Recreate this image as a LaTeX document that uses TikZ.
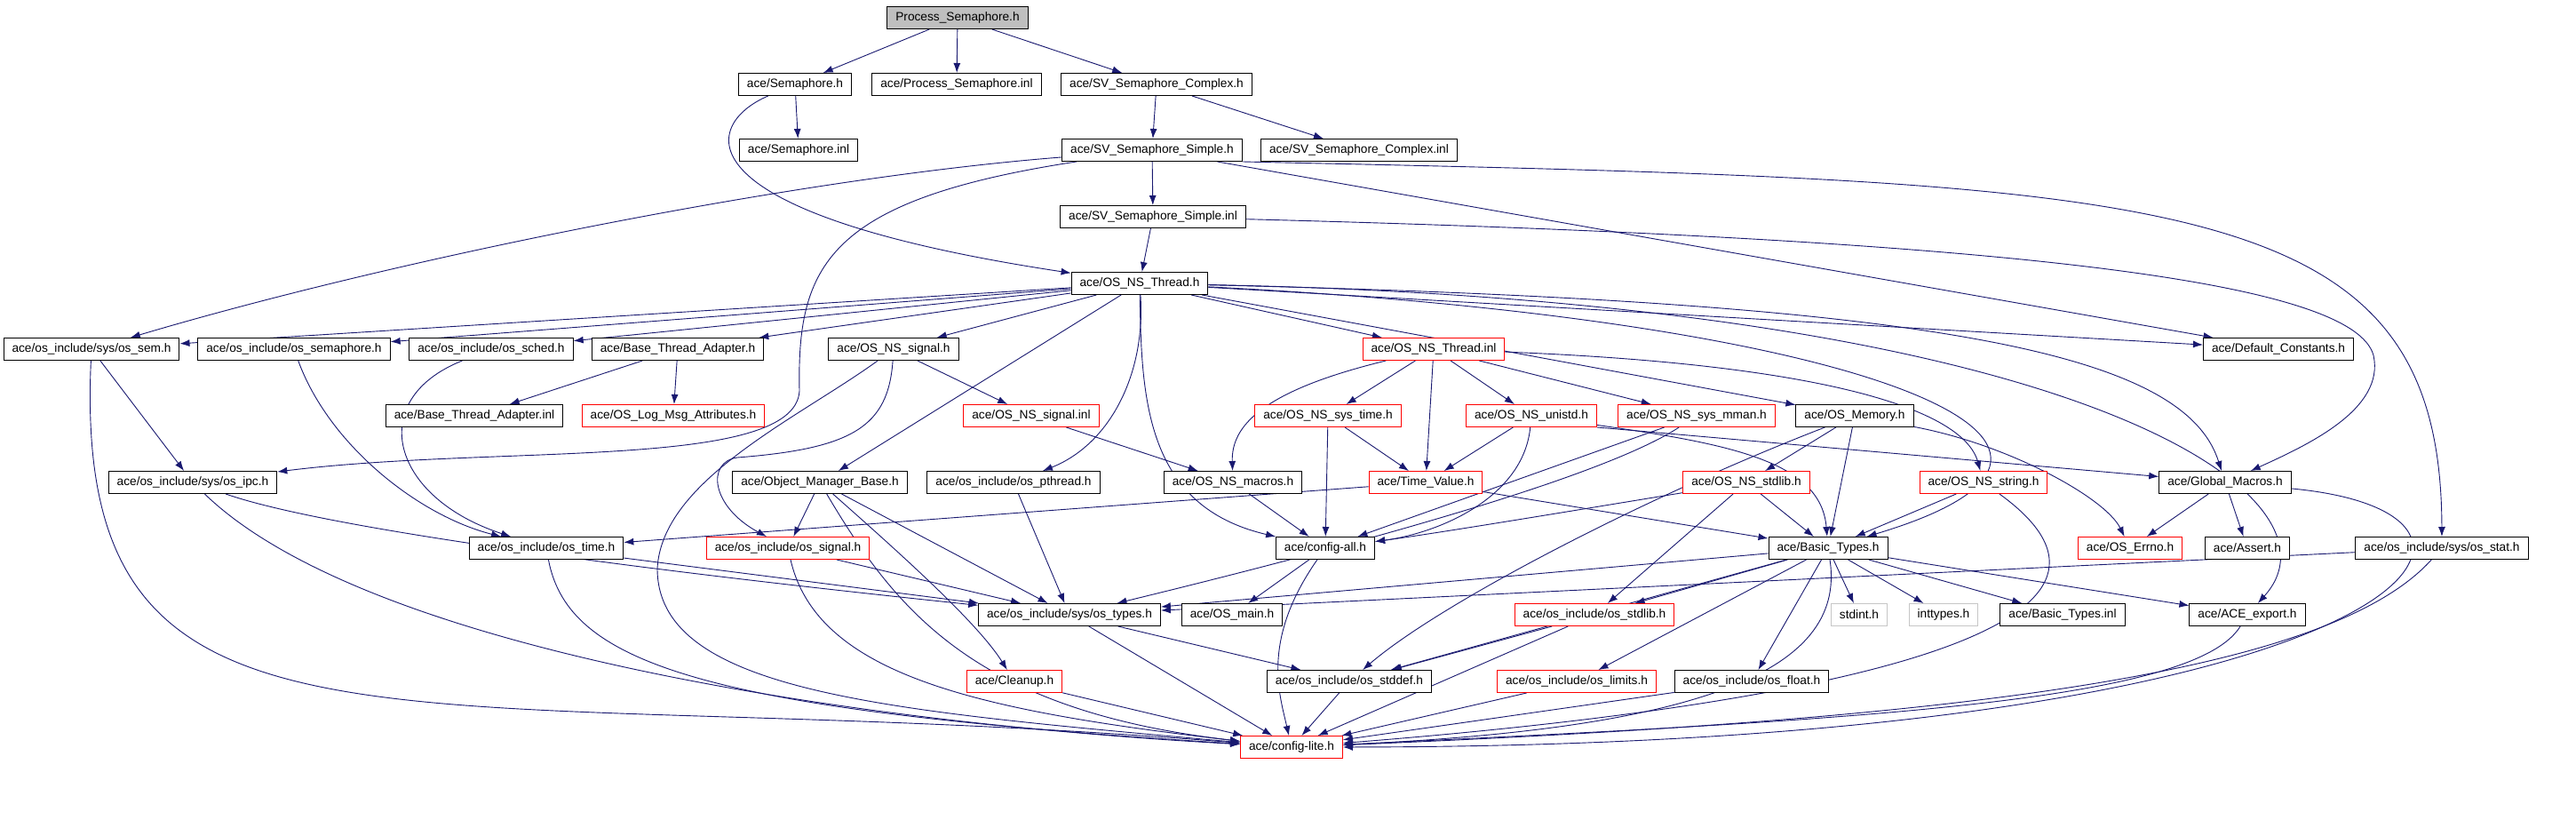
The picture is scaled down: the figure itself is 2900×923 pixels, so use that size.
\documentclass[tikz,border=0pt]{standalone}
\usepackage{fontspec}
\setmainfont{Liberation Sans}
\usetikzlibrary{arrows.meta}
\definecolor{edgeblue}{HTML}{191970}
\pgfdeclarelayer{background}
\pgfsetlayers{background,main}

\begin{document}
\begin{tikzpicture}[
  x=1pt, y=-1pt,
  hdr/.style={draw=black, fill=white, line width=1pt, minimum height=25pt,
    inner xsep=9.5pt, inner ysep=0pt, font=\fontsize{13.7}{16}\selectfont},
  hdrmissing/.style={hdr, draw=red},
  hdrsys/.style={hdr, draw=gray!45},
  hdrmain/.style={hdr, fill=gray!50},
  incl/.style={draw=edgeblue, line width=0.9pt, -{Latex[length=11pt,width=8pt]}}
]
  \useasboundingbox (0, 0) rectangle (2900, 923);

  \node[hdrmain] (ps) at (1078, 20) {Process\_Semaphore.h};

  \node[hdr] (sem) at (895, 95) {ace/Semaphore.h};
  \node[hdr] (psinl) at (1077, 95) {ace/Process\_Semaphore.inl};
  \node[hdr] (svc) at (1302, 95) {ace/SV\_Semaphore\_Complex.h};

  \node[hdr] (seminl) at (899, 169) {ace/Semaphore.inl};
  \node[hdr] (svs) at (1297, 169) {ace/SV\_Semaphore\_Simple.h};
  \node[hdr] (svcinl) at (1530, 169) {ace/SV\_Semaphore\_Complex.inl};

  \node[hdr] (svsinl) at (1298, 244) {ace/SV\_Semaphore\_Simple.inl};

  \node[hdr] (thr) at (1283, 319) {ace/OS\_NS\_Thread.h};

  \node[hdr] (ossem) at (103, 393) {ace/os\_include/sys/os\_sem.h};
  \node[hdr] (ossemaphore) at (331, 393) {ace/os\_include/os\_semaphore.h};
  \node[hdr] (ossched) at (553, 393) {ace/os\_include/os\_sched.h};
  \node[hdr] (bta) at (763, 393) {ace/Base\_Thread\_Adapter.h};
  \node[hdr] (nssig) at (1006, 393) {ace/OS\_NS\_signal.h};
  \node[hdrmissing] (thrinl) at (1614, 393) {ace/OS\_NS\_Thread.inl};
  \node[hdr] (defc) at (2565, 393) {ace/Default\_Constants.h};

  \node[hdr] (btainl) at (534, 468) {ace/Base\_Thread\_Adapter.inl};
  \node[hdrmissing] (logmsg) at (758, 468) {ace/OS\_Log\_Msg\_Attributes.h};
  \node[hdrmissing] (nssiginl) at (1161, 468) {ace/OS\_NS\_signal.inl};
  \node[hdrmissing] (systime) at (1495, 468) {ace/OS\_NS\_sys\_time.h};
  \node[hdrmissing] (unistd) at (1724, 468) {ace/OS\_NS\_unistd.h};
  \node[hdrmissing] (mman) at (1910, 468) {ace/OS\_NS\_sys\_mman.h};
  \node[hdr] (osmem) at (2088, 468) {ace/OS\_Memory.h};

  \node[hdr] (osipc) at (217, 543) {ace/os\_include/sys/os\_ipc.h};
  \node[hdr] (omb) at (923, 543) {ace/Object\_Manager\_Base.h};
  \node[hdr] (pthread) at (1141, 543) {ace/os\_include/os\_pthread.h};
  \node[hdr] (macros) at (1388, 543) {ace/OS\_NS\_macros.h};
  \node[hdrmissing] (tval) at (1605, 543) {ace/Time\_Value.h};
  \node[hdrmissing] (nsstdlib) at (1966, 543) {ace/OS\_NS\_stdlib.h};
  \node[hdrmissing] (nsstring) at (2233, 543) {ace/OS\_NS\_string.h};
  \node[hdr] (gmac) at (2505, 543) {ace/Global\_Macros.h};

  \node[hdr] (ostime) at (615, 617) {ace/os\_include/os\_time.h};
  \node[hdrmissing] (ossignal) at (887, 617) {ace/os\_include/os\_signal.h};
  \node[hdr] (cfgall) at (1492, 617) {ace/config-all.h};
  \node[hdr] (btypes) at (2058, 617) {ace/Basic\_Types.h};
  \node[hdrmissing] (errno) at (2398, 617) {ace/OS\_Errno.h};
  \node[hdr] (assert) at (2530, 617) {ace/Assert.h};
  \node[hdr] (osstat) at (2749, 617) {ace/os\_include/sys/os\_stat.h};

  \node[hdr] (ostypes) at (1204, 692) {ace/os\_include/sys/os\_types.h};
  \node[hdr] (osmain) at (1387, 692) {ace/OS\_main.h};
  \node[hdrmissing] (osstdlib) at (1795, 692) {ace/os\_include/os\_stdlib.h};
  \node[hdrsys] (stdint) at (2093, 692) {stdint.h};
  \node[hdrsys] (inttypes) at (2188, 692) {inttypes.h};
  \node[hdr] (btinl) at (2322, 692) {ace/Basic\_Types.inl};
  \node[hdr] (export) at (2530, 692) {ace/ACE\_export.h};

  \node[hdrmissing] (cleanup) at (1142, 767) {ace/Cleanup.h};
  \node[hdr] (stddef) at (1519, 767) {ace/os\_include/os\_stddef.h};
  \node[hdrmissing] (limits) at (1775, 767) {ace/os\_include/os\_limits.h};
  \node[hdr] (float) at (1972, 767) {ace/os\_include/os\_float.h};

  \node[hdrmissing] (cfglite) at (1454, 841) {ace/config-lite.h};

  \begin{pgfonlayer}{background}
  \fill[white] (0, 0) rectangle (2900, 923);

  \draw[incl] (ps) -- (sem);
  \draw[incl] (ps) -- (psinl);
  \draw[incl] (ps) -- (svc);
  \draw[incl] (sem) -- (seminl);
  \draw[incl] (sem) .. controls (790, 140) and (760, 240) .. (thr);
  \draw[incl] (svc) -- (svs);
  \draw[incl] (svc) -- (svcinl);
  \draw[incl] (svs) -- (svsinl);
  \draw[incl] (svs) .. controls (900, 200) and (450, 290) .. (ossem);
  \draw[incl] (svs) .. controls (930, 225) and (897, 300) .. (900, 440)
    .. controls (895, 530) and (560, 500) .. (osipc);
  \draw[incl] (svs) -- (defc);
  \draw[incl] (svs.south east) .. controls (2450, 205) and (2748, 210) .. (osstat);
  \draw[incl] (svsinl) -- (thr);
  \draw[incl] (svsinl) .. controls (2300, 270) and (2650, 320) .. (2672, 400)
    .. controls (2685, 460) and (2600, 500) .. (gmac);

  \draw[incl] (thr) -- (ossem);
  \draw[incl] (thr) -- (ossemaphore);
  \draw[incl] (thr) -- (ossched);
  \draw[incl] (thr) -- (bta);
  \draw[incl] (thr) -- (nssig);
  \draw[incl] (thr) -- (omb);
  \draw[incl] (thr) .. controls (1290, 420) and (1250, 500) .. (pthread);
  \draw[incl] (thr) .. controls (1285, 450) and (1290, 570) .. (cfgall);
  \draw[incl] (thr) -- (thrinl);
  \draw[incl] (thr) -- (osmem);
  \draw[incl] (thr) -- (defc);
  \draw[incl] (thr) .. controls (2100, 360) and (2450, 500) .. (btypes);
  \draw[incl] (thr) .. controls (2200, 340) and (2460, 400) .. (gmac);
  \draw[incl] (thr) .. controls (2350, 340) and (2650, 560) .. (export);

  \draw[incl] (ossem) -- (osipc);
  \draw[incl] (ossem) .. controls (80, 900) and (450, 760) .. (cfglite);
  \draw[incl] (ossemaphore) .. controls (370, 500) and (470, 580) .. (ostime);
  \draw[incl] (ossched) .. controls (410, 450) and (440, 560) .. (ostime);
  \draw[incl] (bta) -- (btainl);
  \draw[incl] (bta) -- (logmsg);
  \draw[incl] (nssig) -- (nssiginl);
  \draw[incl] (nssig) .. controls (1000, 480) and (960, 505) .. (830, 515)
    .. controls (795, 520) and (800, 570) .. (ossignal);
  \draw[incl] (nssig) .. controls (900, 470) and (745, 540) .. (740, 640)
    .. controls (740, 780) and (1000, 800) .. (cfglite);
  \draw[incl] (nssiginl) -- (macros);

  \draw[incl] (thrinl) .. controls (1420, 440) and (1386, 480) .. (macros);
  \draw[incl] (thrinl) -- (systime);
  \draw[incl] (thrinl) -- (tval);
  \draw[incl] (thrinl) -- (unistd);
  \draw[incl] (thrinl) -- (mman);
  \draw[incl] (thrinl) .. controls (2050, 410) and (2210, 460) .. (nsstring);

  \draw[incl] (systime) -- (tval);
  \draw[incl] (systime) -- (cfgall);
  \draw[incl] (unistd) -- (tval);
  \draw[incl] (unistd) .. controls (1715, 560) and (1620, 600) .. (cfgall);
  \draw[incl] (unistd.south east) -- (gmac);
  \draw[incl] (unistd) .. controls (1950, 500) and (2050, 520) .. (btypes);
  \draw[incl] (mman) -- (cfgall);
  \draw[incl] (mman) .. controls (1800, 540) and (1500, 620) .. (ostypes);
  \draw[incl] (osmem) -- (nsstdlib);
  \draw[incl] (osmem) -- (btypes);
  \draw[incl] (osmem) .. controls (2260, 500) and (2370, 560) .. (errno);
  \draw[incl] (osmem) .. controls (1850, 560) and (1620, 680) .. (stddef);

  \draw[incl] (osipc) .. controls (380, 600) and (800, 650) .. (ostypes);
  \draw[incl] (osipc) .. controls (400, 720) and (900, 810) .. (cfglite);
  \draw[incl] (omb) -- (ossignal);
  \draw[incl] (omb) -- (ostypes);
  \draw[incl] (omb) .. controls (1010, 620) and (1100, 700) .. (cleanup);
  \draw[incl] (omb) .. controls (1010, 690) and (1100, 800) .. (cfglite);
  \draw[incl] (pthread) -- (ostypes);
  \draw[incl] (macros) -- (cfgall);
  \draw[incl] (tval) -- (ostime);
  \draw[incl] (tval) -- (btypes);
  \draw[incl] (nsstdlib) .. controls (1800, 570) and (1620, 600) .. (cfgall);
  \draw[incl] (nsstdlib) -- (btypes);
  \draw[incl] (nsstdlib) -- (osstdlib);
  \draw[incl] (nsstring) -- (btypes);
  \draw[incl] (nsstring) .. controls (2450, 700) and (2100, 790) .. (cfglite);
  \draw[incl] (gmac) -- (errno);
  \draw[incl] (gmac) -- (assert);
  \draw[incl] (gmac) .. controls (2900, 580) and (2700, 840) .. (cfglite);

  \draw[incl] (ostime) -- (ostypes);
  \draw[incl] (ostime) .. controls (640, 750) and (800, 800) .. (cfglite);
  \draw[incl] (ossignal) -- (ostypes);
  \draw[incl] (ossignal) .. controls (920, 760) and (1100, 800) .. (cfglite);
  \draw[incl] (cfgall) -- (osmain);
  \draw[incl] (cfgall) .. controls (1420, 720) and (1440, 780) .. (cfglite);
  \draw[incl] (btypes) -- (ostypes);
  \draw[incl] (btypes) -- (osstdlib);
  \draw[incl] (btypes) -- (stddef);
  \draw[incl] (btypes) -- (limits);
  \draw[incl] (btypes) -- (float);
  \draw[incl] (btypes) -- (stdint);
  \draw[incl] (btypes) -- (inttypes);
  \draw[incl] (btypes) -- (btinl);
  \draw[incl] (btypes) -- (export);
  \draw[incl] (btypes) .. controls (2080, 760) and (1900, 820) .. (cfglite);
  \draw[incl] (osstat) -- (ostypes);
  \draw[incl] (osstat) .. controls (2620, 760) and (2200, 810) .. (cfglite);
  \draw[incl] (export) .. controls (2470, 790) and (2100, 810) .. (cfglite);

  \draw[incl] (ostypes) -- (stddef);
  \draw[incl] (ostypes) -- (cfglite);
  \draw[incl] (osstdlib) -- (stddef);
  \draw[incl] (osstdlib) -- (cfglite);
  \draw[incl] (cleanup) -- (cfglite);
  \draw[incl] (stddef) -- (cfglite);
  \draw[incl] (limits) -- (cfglite);
  \draw[incl] (float) -- (cfglite);
  \end{pgfonlayer}
\end{tikzpicture}
\end{document}
